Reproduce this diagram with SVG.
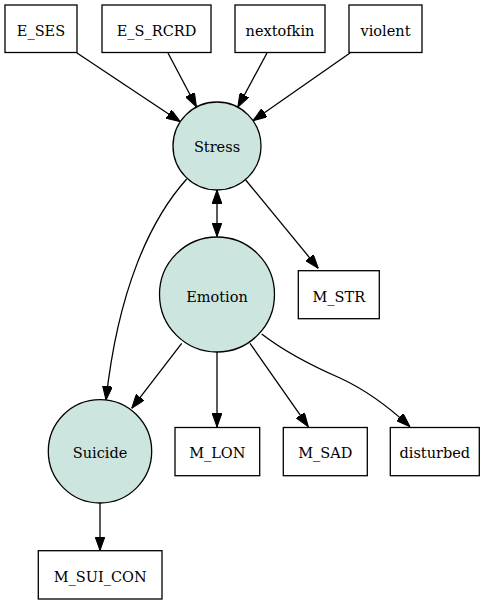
<svg xmlns="http://www.w3.org/2000/svg" width="484" height="604" viewBox="0 0 484 604">
<style>
.box{fill:#fff;stroke:#000;stroke-width:1.3}
.lat{fill:#cce5df;stroke:#000;stroke-width:1.3}
.t{font-family:'DejaVu Serif','Liberation Serif',serif;font-size:14.5px;text-anchor:middle;fill:#000}
.e{fill:none;stroke:#000;stroke-width:1.3}
</style>
<defs>
<marker id="ah" viewBox="0 0 14 10" refX="14" refY="5" markerWidth="14" markerHeight="10" markerUnits="userSpaceOnUse" orient="auto-start-reverse">
<path d="M0,0 L14,5 L0,10 Z" fill="#000" stroke="#000" stroke-width="1"/>
</marker>
</defs>
<rect width="484" height="604" fill="#fff"/>
<g id="edges">
<path class="e" d="M77,53 L180.3,121.7" marker-end="url(#ah)"/>
<path class="e" d="M168,53 L196.5,107" marker-end="url(#ah)"/>
<path class="e" d="M267,53 L237.8,107.3" marker-end="url(#ah)"/>
<path class="e" d="M350,53 L253,120.7" marker-end="url(#ah)"/>
<path class="e" d="M245.7,180 L318.3,268.3" marker-end="url(#ah)"/>
<path class="e" d="M217,190 L217,236.5" marker-start="url(#ah)" marker-end="url(#ah)"/>
<path class="e" d="M186.7,179 C150,220 118,290 106,400" marker-end="url(#ah)"/>
<path class="e" d="M181.7,343.3 L131.7,408.3" marker-end="url(#ah)"/>
<path class="e" d="M217,352 L217,427" marker-end="url(#ah)"/>
<path class="e" d="M250,343.3 L308.3,426.7" marker-end="url(#ah)"/>
<path class="e" d="M261.7,334 C285,352 310,365 340,378 C368,391 390,408 410,426.7" marker-end="url(#ah)"/>
<path class="e" d="M100,503 L100,550.5" marker-end="url(#ah)"/>
</g>
<g class="t">
<g id="E_SES"><rect class="box" x="5" y="5" width="72" height="47.5"/><text x="41" y="36">E_SES</text></g>
<g id="E_S_RCRD"><rect class="box" x="102" y="5" width="109" height="47.5"/><text x="156.5" y="36">E_S_RCRD</text></g>
<g id="nextofkin"><rect class="box" x="235" y="5" width="90" height="47.5"/><text x="280" y="36">nextofkin</text></g>
<g id="violent"><rect class="box" x="349" y="5" width="73" height="47.5"/><text x="385.5" y="36">violent</text></g>
<g id="Stress"><circle class="lat" cx="217" cy="146" r="44"/><text x="217" y="152">Stress</text></g>
<g id="Emotion"><circle class="lat" cx="217" cy="294.5" r="57.5"/><text x="217" y="301.5">Emotion</text></g>
<g id="M_STR"><rect class="box" x="298.3" y="270.7" width="81" height="48"/><text x="338.8" y="301.5">M_STR</text></g>
<g id="Suicide"><circle class="lat" cx="100" cy="451.3" r="51.7"/><text x="100" y="458">Suicide</text></g>
<g id="M_LON"><rect class="box" x="175" y="427.5" width="84.7" height="48.2"/><text x="217.3" y="458">M_LON</text></g>
<g id="M_SAD"><rect class="box" x="283.3" y="427.5" width="84" height="48.2"/><text x="325.3" y="458">M_SAD</text></g>
<g id="disturbed"><rect class="box" x="390.3" y="427.5" width="89" height="48.2"/><text x="434.8" y="458">disturbed</text></g>
<g id="M_SUI_CON"><rect class="box" x="38.3" y="550.7" width="123.7" height="48.3"/><text x="100.2" y="581.5">M_SUI_CON</text></g>
</g>
</svg>
